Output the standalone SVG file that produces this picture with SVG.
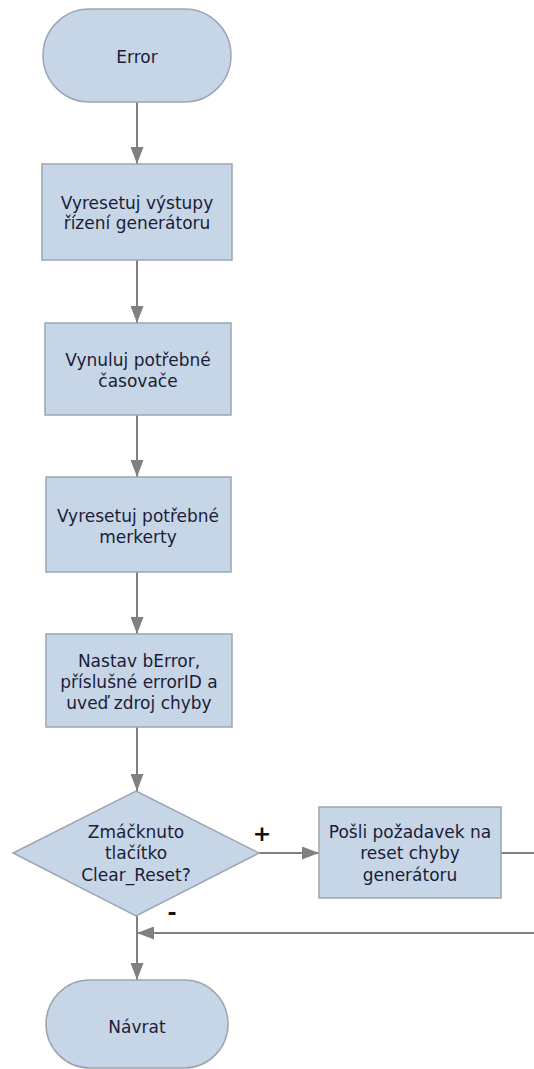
<svg xmlns="http://www.w3.org/2000/svg" width="534" height="1069" viewBox="0 0 534 1069">
<style>
.n{fill:#c6d6e6;stroke:#9aa6b2;stroke-width:1.5}
.t{font-family:"DejaVu Sans",Verdana,sans-serif;font-size:17px;fill:#1c1c38;text-anchor:middle;dominant-baseline:central}
.c{fill:none;stroke:#808080;stroke-width:2}
.l{font-family:"DejaVu Sans",sans-serif;font-size:22px;font-weight:bold;fill:#111;text-anchor:middle;dominant-baseline:central}
</style>
<defs>
<marker id="ah" markerWidth="17" markerHeight="13" refX="17" refY="6.5" orient="auto" markerUnits="userSpaceOnUse">
<path d="M0,0 L17,6.5 L0,13 Z" fill="#808080"/>
</marker>
</defs>
<rect width="534" height="1069" fill="#fff"/>
<g id="connectors">
<line class="c" x1="137" y1="102" x2="137" y2="164" marker-end="url(#ah)"/>
<line class="c" x1="137" y1="260" x2="137" y2="323" marker-end="url(#ah)"/>
<line class="c" x1="137" y1="415" x2="137" y2="477" marker-end="url(#ah)"/>
<line class="c" x1="137" y1="572" x2="137" y2="634" marker-end="url(#ah)"/>
<line class="c" x1="137" y1="727" x2="137" y2="791" marker-end="url(#ah)"/>
<line class="c" x1="259" y1="853" x2="319" y2="853" marker-end="url(#ah)"/>
<line class="c" x1="501" y1="853" x2="534" y2="853"/>
<line class="c" x1="534" y1="933" x2="137" y2="933" marker-end="url(#ah)"/>
<line class="c" x1="137" y1="916" x2="137" y2="980" marker-end="url(#ah)"/>
<text class="l" x="262" y="833">+</text>
<text class="l" x="172" y="912">-</text>
</g>
<g id="error">
<rect class="n" x="43" y="9" width="188" height="93" rx="46.5"/>
<text class="t" x="137" y="57">Error</text>
</g>
<g id="box1">
<rect class="n" x="42" y="164" width="190" height="96"/>
<text class="t" x="137" y="203">Vyresetuj výstupy</text>
<text class="t" x="137" y="223">řízení generátoru</text>
</g>
<g id="box2">
<rect class="n" x="45" y="323" width="186" height="92"/>
<text class="t" x="138" y="360">Vynuluj potřebné</text>
<text class="t" x="138" y="381">časovače</text>
</g>
<g id="box3">
<rect class="n" x="46" y="477" width="185" height="95"/>
<text class="t" x="138" y="516">Vyresetuj potřebné</text>
<text class="t" x="138" y="537">merkerty</text>
</g>
<g id="box4">
<rect class="n" x="46" y="634" width="186" height="93"/>
<text class="t" x="139" y="661">Nastav bError,</text>
<text class="t" x="139" y="682">příslušné errorID a</text>
<text class="t" x="139" y="703">uveď zdroj chyby</text>
</g>
<g id="decision">
<polygon class="n" points="136,791 259,853 136,916 13,853"/>
<text class="t" x="136" y="832">Zmáčknuto</text>
<text class="t" x="136" y="853">tlačítko</text>
<text class="t" x="136" y="875">Clear_Reset?</text>
</g>
<g id="box5">
<rect class="n" x="319" y="807" width="182" height="91"/>
<text class="t" x="410" y="832">Pošli požadavek na</text>
<text class="t" x="410" y="853">reset chyby</text>
<text class="t" x="410" y="875">generátoru</text>
</g>
<g id="navrat">
<rect class="n" x="46" y="980" width="182" height="88" rx="44"/>
<text class="t" x="137" y="1027">Návrat</text>
</g>
</svg>
